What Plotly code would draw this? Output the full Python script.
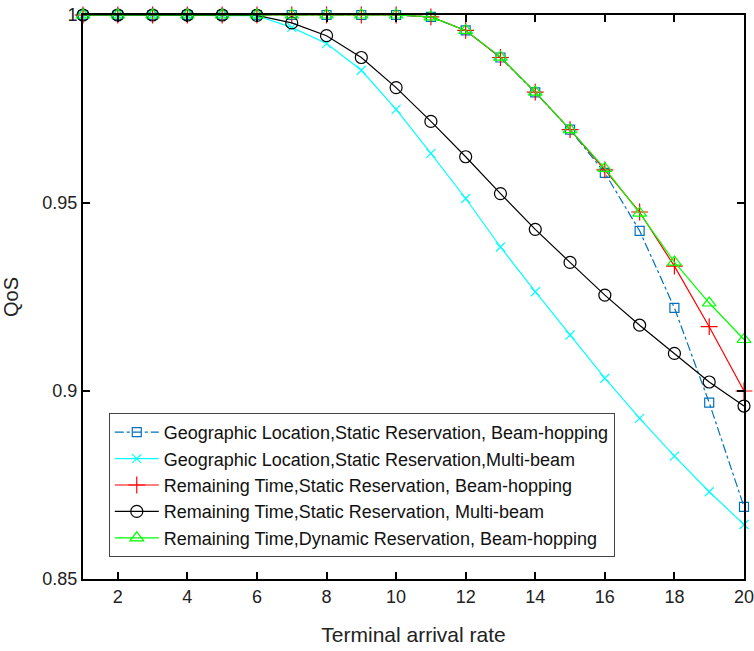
import plotly.graph_objects as go

x = list(range(1, 21))

geo_static_bh = [1, 1, 1, 1, 1, 1, 1, 1, 1, 1, 0.9995, 0.9959, 0.9887, 0.9794, 0.9695, 0.9580, 0.9426, 0.9221, 0.8969, 0.8692]
geo_static_mb = [1, 1, 1, 1, 1, 0.9998, 0.9967, 0.9924, 0.9853, 0.9749, 0.9632, 0.9512, 0.9383, 0.9264, 0.9149, 0.9034, 0.8927, 0.8827, 0.8732, 0.8645]
rt_static_bh = [1, 1, 1, 1, 1, 1, 1, 1, 1, 1, 0.9995, 0.9959, 0.9887, 0.9795, 0.9695, 0.9588, 0.9476, 0.9332, 0.9171, 0.9000]
rt_static_mb = [1, 1, 1, 1, 1, 0.9999, 0.9979, 0.9945, 0.9887, 0.9807, 0.9717, 0.9623, 0.9525, 0.9430, 0.9342, 0.9255, 0.9175, 0.9100, 0.9024, 0.8960]
rt_dynamic_bh = [1, 1, 1, 1, 1, 1, 1, 1, 1, 1, 0.9995, 0.9959, 0.9888, 0.9795, 0.9695, 0.9592, 0.9473, 0.9343, 0.9234, 0.9137]

names = [
    "Geographic Location,Static Reservation, Beam-hopping",
    "Geographic Location,Static Reservation,Multi-beam",
    "Remaining Time,Static Reservation, Beam-hopping",
    "Remaining Time,Static Reservation, Multi-beam",
    "Remaining Time,Dynamic Reservation, Beam-hopping",
]
x_ticks = [2, 4, 6, 8, 10, 12, 14, 16, 18, 20]
y_ticks = [0.85, 0.9, 0.95, 1]
y_tick_text = ["0.85", "0.9", "0.95", "1"]

FONT = "Liberation Sans, Arial, sans-serif"

styles = [
    dict(color="#0072BD", dash="dashdot", symbol="square-open", size=9),
    dict(color="#00FFFF", dash="solid", symbol="x-thin-open", size=9),
    dict(color="#FF0000", dash="solid", symbol="cross-thin-open", size=12),
    dict(color="#000000", dash="solid", symbol="circle-open", size=12),
    dict(color="#00FF00", dash="solid", symbol="triangle-up-open", size=12),
]
series = [geo_static_bh, geo_static_mb, rt_static_bh, rt_static_mb, rt_dynamic_bh]

fig = go.Figure()
for name, ys, st in zip(names, series, styles):
    fig.add_trace(go.Scatter(
        x=x, y=ys, name=name, mode="lines+markers", legendgroup=name,
        line=dict(color=st["color"], width=1.2, dash=st["dash"]),
        marker=dict(symbol=st["symbol"], size=st["size"], color=st["color"],
                    line=dict(color=st["color"], width=1.2)),
        cliponaxis=False,
    ))

axis_common = dict(
    showline=True, linecolor="black", linewidth=2, mirror="ticks",
    ticks="inside", ticklen=7, tickwidth=2, tickcolor="black",
    showgrid=False, zeroline=False, ticklabeloverflow="allow", automargin=False,
    tickfont=dict(family=FONT, size=18, color="#222"),
)

fig.update_layout(
    width=754, height=651,
    margin=dict(l=83, r=10, t=15, b=72),
    paper_bgcolor="white", plot_bgcolor="white",
    font=dict(family=FONT, color="#222"),
    xaxis=dict(range=[1, 20], tickvals=x_ticks,
               title=dict(text="Terminal arrival rate", font=dict(family=FONT, size=21), standoff=22),
               **axis_common),
    yaxis=dict(range=[0.85, 1], tickvals=y_ticks, ticktext=y_tick_text,
               title=dict(text="QoS", font=dict(family=FONT, size=20), standoff=22),
               **axis_common),
    legend=dict(x=0.039, y=0.039, xanchor="left", yanchor="bottom",
                bordercolor="#444", borderwidth=1, bgcolor="white",
                font=dict(family=FONT, size=18, color="#111"),
                tracegroupgap=0, itemwidth=44),
    showlegend=True,
)

fig.write_html("out.html", config={"displayModeBar": False},
               post_script="document.body.style.margin='0';")
